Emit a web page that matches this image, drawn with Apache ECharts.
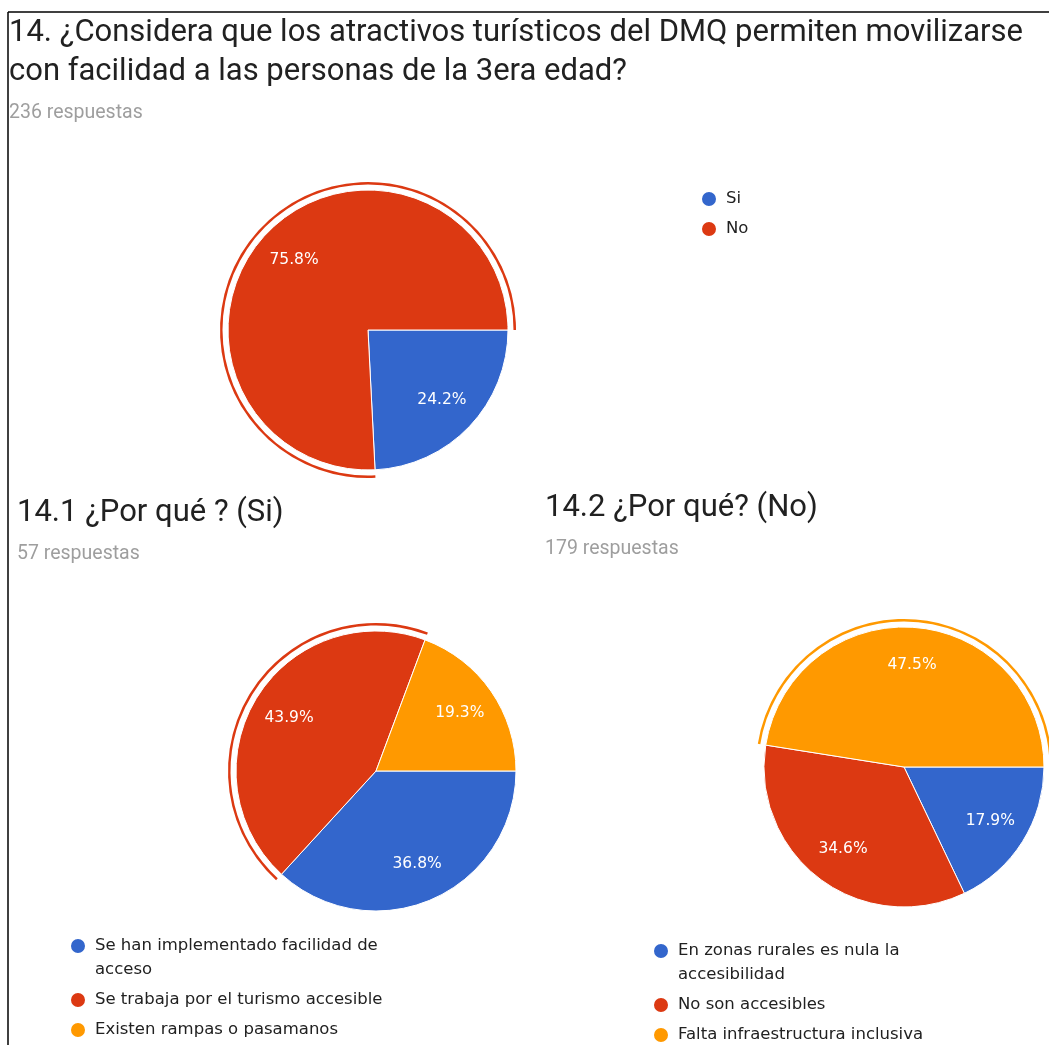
<!DOCTYPE html>
<html>
<head>
<meta charset="utf-8">
<script src="https://cdn.jsdelivr.net/npm/echarts@6/dist/echarts.min.js"></script>
<style>
  html, body { margin: 0; padding: 0; background: #fff; }
  #chart { width: 1049px; height: 1045px; }
</style>
</head>
<body>
<div id="chart"></div>
<script>
// preguntas y respuestas
const q14Title = '14. ¿Considera que los atractivos turísticos del DMQ permiten movilizarse\ncon facilidad a las personas de la 3era edad?';
const q14Count = '236 respuestas';
const q14Names = ['Si', 'No'];
const q14Values = [24.2, 75.8];

const q141Title = '14.1 ¿Por qué ? (Si)';
const q141Count = '57 respuestas';
const q141Names = ['Se han implementado facilidad de acceso', 'Se trabaja por el turismo accesible', 'Existen rampas o pasamanos'];
const q141Values = [36.8, 43.9, 19.3];

const q142Title = '14.2 ¿Por qué? (No)';
const q142Count = '179 respuestas';
const q142Names = ['En zonas rurales es nula la accesibilidad', 'No son accesibles', 'Falta infraestructura inclusiva'];
const q142Values = [17.9, 34.6, 47.5];

const colors = ['#3366cc', '#dc3912', '#ff9900'];
const R = 140;
const LEGEND_SIZE = 16.5;

// data con color fijo por posición
const toData = (names, values) => names.map((n, i) => ({
  name: n, value: values[i], itemStyle: { color: colors[i] }
}));

// 3 series por gráfico: pastel, anillo del sector destacado, etiquetas
function pies(names, values, center, hi) {
  const data = toData(names, values);
  return [
    {
      type: 'pie',
      center,
      radius: [0, R],
      startAngle: 0,
      clockwise: true,
      silent: true,
      data,
      itemStyle: { borderColor: '#fff', borderWidth: 1 },
      label: { show: false },
      labelLine: { show: false }
    },
    {
      type: 'pie',
      center,
      radius: [R + 5.5, R + 8],
      startAngle: 0,
      silent: true,
      legendHoverLink: false,
      data: data.map((d, i) => ({
        name: d.name,
        value: d.value,
        itemStyle: { color: i === hi ? colors[i] : 'transparent' }
      })),
      label: { show: false },
      labelLine: { show: false }
    },
    {
      type: 'pie',
      center,
      radius: [0, 198],
      startAngle: 0,
      silent: true,
      legendHoverLink: false,
      data: data.map(d => ({ name: d.name, value: d.value, itemStyle: { color: 'transparent' } })),
      label: {
        show: true,
        position: 'inside',
        formatter: p => p.value.toFixed(1) + '%',
        color: '#fff',
        fontFamily: 'DejaVu Sans',
        fontSize: 15.5
      },
      labelLine: { show: false }
    }
  ];
}

// partir el texto de la leyenda por palabras; se añaden líneas vacías arriba
// para que el círculo quede a la altura de la primera línea
const ctx = document.createElement('canvas').getContext('2d');
ctx.font = LEGEND_SIZE + 'px "DejaVu Sans"';
function wrap(text, maxW) {
  const words = text.split(' ');
  const lines = [];
  let cur = '';
  words.forEach(w => {
    const t = cur ? cur + ' ' + w : w;
    if (cur && ctx.measureText(t).width > maxW) {
      lines.push(cur);
      cur = w;
    } else {
      cur = t;
    }
  });
  lines.push(cur);
  const pad = new Array(lines.length - 1).fill('\u00a0');
  return pad.concat(lines).join('\n');
}

function legend(names, left, top) {
  return {
    data: names,
    orient: 'vertical',
    left, top,
    icon: 'circle',
    itemWidth: 16,
    itemHeight: 16,
    itemGap: 6,
    padding: 0,
    selectedMode: false,
    formatter: n => wrap(n, 305),
    textStyle: {
      fontFamily: 'DejaVu Sans',
      fontSize: LEGEND_SIZE,
      color: '#212121',
      lineHeight: 24,
      padding: [0, 0, 0, 4]
    }
  };
}

const titleFont = { fontFamily: 'Roboto', fontSize: 31, fontWeight: 'normal', color: '#212121', lineHeight: 39 };
const countFont = { fontFamily: 'Roboto', fontSize: 19.5, fontWeight: 'normal', color: '#9e9e9e', lineHeight: 20 };

const chart = echarts.init(document.getElementById('chart'));
chart.setOption({
  animation: false,
  title: [
    { text: q14Title, left: 9, top: 14, padding: 0, textStyle: titleFont },
    { text: q14Count, left: 9, top: 103, padding: 0, textStyle: countFont },
    { text: q141Title, left: 17, top: 494, padding: 0, textStyle: titleFont },
    { text: q141Count, left: 17, top: 544, padding: 0, textStyle: countFont },
    { text: q142Title, left: 545, top: 489, padding: 0, textStyle: titleFont },
    { text: q142Count, left: 545, top: 539, padding: 0, textStyle: countFont }
  ],
  legend: [
    legend(q14Names, 700, 187),
    legend(q141Names, 69, 910),
    legend(q142Names, 652, 915)
  ],
  graphic: [
    { type: 'line', shape: { x1: 8, y1: 12, x2: 1049, y2: 12 }, style: { stroke: '#000', lineWidth: 1.5 }, silent: true },
    { type: 'line', shape: { x1: 8, y1: 12, x2: 8, y2: 1045 }, style: { stroke: '#000', lineWidth: 1.5 }, silent: true }
  ],
  series: [
    ...pies(q14Names, q14Values, [368, 330], 1),
    ...pies(q141Names, q141Values, [376, 771], 1),
    ...pies(q142Names, q142Values, [904, 767], 2)
  ]
});
</script>
</body>
</html>
